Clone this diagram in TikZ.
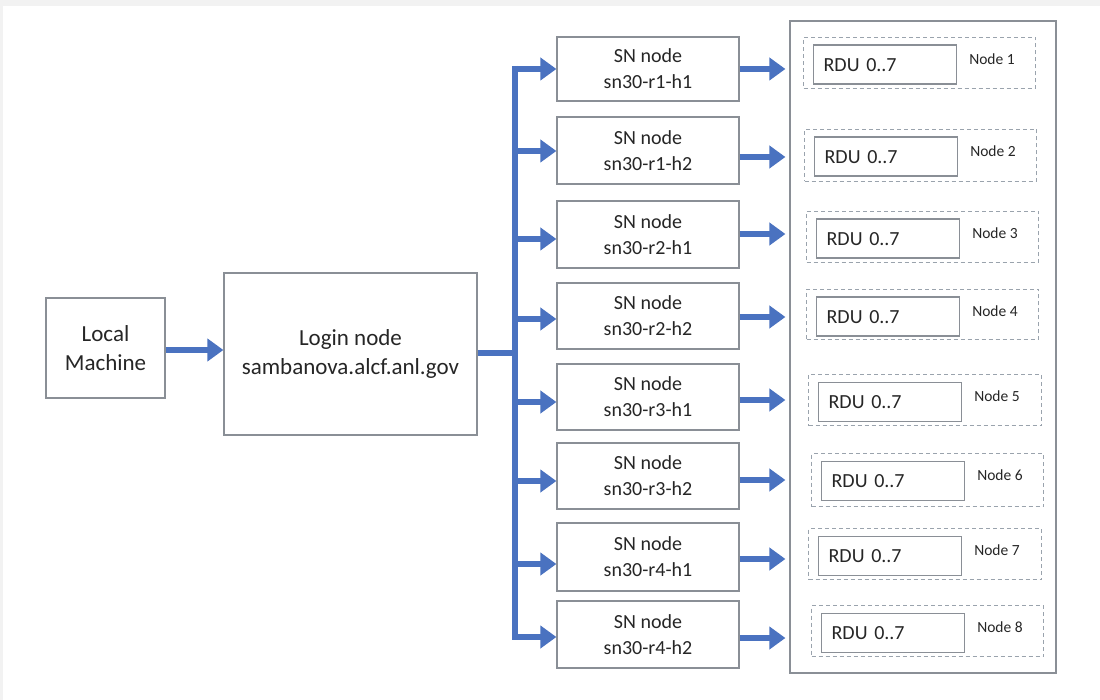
\documentclass[tikz,border=0pt]{standalone}
\usepackage{fontspec}
\setmainfont{Carlito}
\usetikzlibrary{arrows.meta}
\definecolor{boxgray}{HTML}{8A8F96}
\definecolor{dashgray}{HTML}{9AA3AD}
\definecolor{arrblue}{HTML}{4A72C0}
\definecolor{textc}{HTML}{262626}
\definecolor{bggray}{HTML}{F2F2F2}
\tikzset{
  box/.style={draw=boxgray, line width=1.2pt, align=center, inner sep=0pt, text=textc},
  dbox/.style={draw=dashgray, line width=1pt, dash pattern=on 4pt off 3pt, inner sep=0pt},
  rdubox/.style={draw=boxgray, line width=1.2pt, inner sep=0pt, text=textc, anchor=north west,
    minimum width=143pt, minimum height=39pt, text width=123pt, align=left,
    font=\fontsize{20}{24}\selectfont},
  lbl/.style={text=textc, font=\fontsize{15.5}{18}\selectfont, inner sep=0pt},
  arr/.style={draw=arrblue, line width=6pt, -{Triangle[length=16pt,width=22pt]}},
  trunkline/.style={draw=arrblue, line width=6pt},
}
\begin{document}
\begin{tikzpicture}[x=1pt,y=-1pt]
\useasboundingbox (0,0) rectangle (1100,700);
\fill[bggray] (0,0) rectangle (1100,700);
\fill[white] (3,6) rectangle (1100,700);

\node[box, minimum width=119pt, minimum height=100pt, font=\fontsize{23}{29}\selectfont] (local) at (105.5,348) {Local\\Machine};
\node[box, minimum width=253pt, minimum height=162pt, font=\fontsize{23}{29}\selectfont] (login) at (350.5,354) {Login node\\sambanova.alcf.anl.gov};

\draw[arr] (local.east |- 0,350) -- (login.west |- 0,350);

\node[box, minimum width=266pt, minimum height=652pt] (outer) at (923,347) {};

\coordinate (ttop) at (515,66);
\coordinate (tbot) at (515,640);
\coordinate (tjoin) at (515,353);
\draw[trunkline] (ttop) -- (tbot);
\draw[trunkline] (login.east |- tjoin) -- (tjoin);

\foreach \i/\nm/\cy/\h/\la/\ra in {1/r1-h1/69/64/69/69, 2/r1-h2/150.5/67/151/157, 3/r2-h1/234.5/67/239/234, 4/r2-h2/316/66/319/317, 5/r3-h1/397/66/402/400, 6/r3-h2/476/66/481/480, 7/r4-h1/557/68/564/559, 8/r4-h2/634.5/67/637/638}{
  \node[box, minimum width=182pt, minimum height=\h pt, font=\fontsize{20}{26}\selectfont] (sn\i) at (648,\cy) {SN node\\sn30-\nm};
  \coordinate (t\i) at (512,\la);
  \draw[arr] (t\i) -- (sn\i.west |- t\i);
  \coordinate (r\i) at (740,\ra);
  \draw[arr, shorten >=4pt] (sn\i.east |- r\i) -- (outer.west |- r\i);
}

\foreach \i/\xa/\xb/\ya/\yb in {1/803/1035/37/88, 2/804/1036/129/181, 3/806/1038/211/262, 4/806/1038/289/339, 5/808/1041/374/425, 6/811/1043/453/506, 7/808/1041/528/579, 8/811/1043/605/656}{
  \node[dbox, minimum width=\xb pt-\xa pt, minimum height=\yb pt-\ya pt, anchor=north west] (d\i) at (\xa,\ya) {};
  \node[rdubox, text depth=-3pt] (rdu\i) at ([xshift=10pt,yshift=-7.5pt]d\i.north west) {RDU 0..7};
  \node[lbl] (nl\i) at ([xshift=189pt,yshift=-22pt]d\i.north west) {Node \i};
}
\end{tikzpicture}
\end{document}
